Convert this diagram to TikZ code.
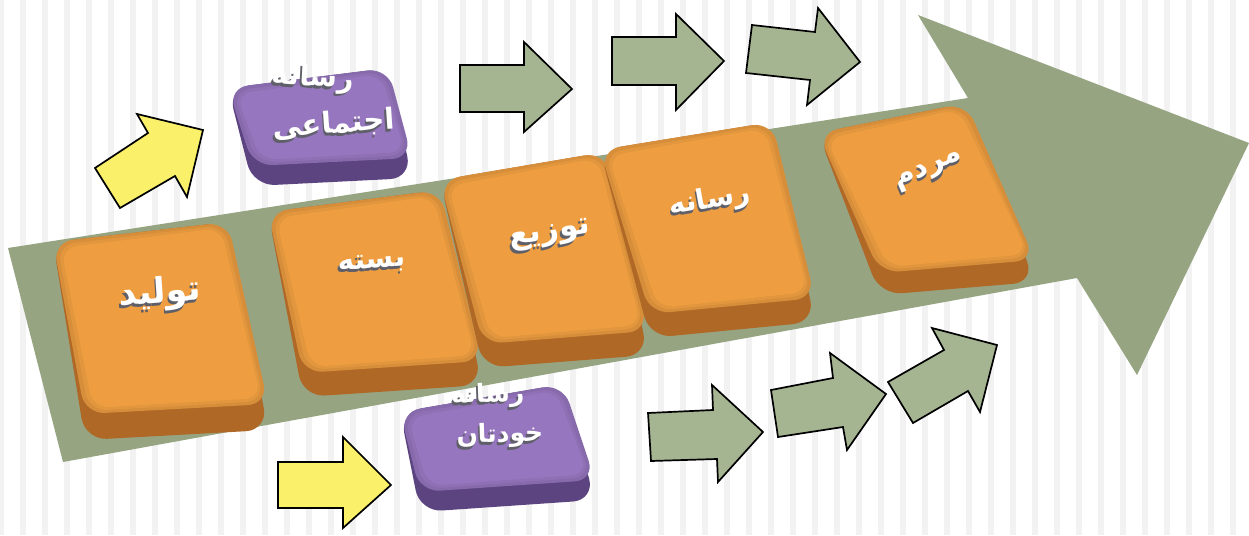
\documentclass[tikz,border=0pt]{standalone}
\usepackage{fontspec}
\newfontfamily\arabicfont[Script=Arabic]{DejaVu Sans}
\TeXXeTstate=1
\usetikzlibrary{calc}

\definecolor{stripe}{RGB}{242,242,242}
\definecolor{bigarrow}{RGB}{150,164,130}
\definecolor{smallgreen}{RGB}{166,181,145}
\definecolor{arrowyellow}{RGB}{250,240,105}
\definecolor{orangeface}{RGB}{238,158,64}
\definecolor{orangebase}{RGB}{176,104,38}
\definecolor{purpleface}{RGB}{150,118,190}
\definecolor{purplebase}{RGB}{92,68,128}
\definecolor{txtshadow}{RGB}{95,95,105}

% Arabic text set right to left, white with an offset grey shadow
\newcommand\fa[1]{\arabicfont\bfseries\beginR #1\endR}
\newcommand\embossed[1]{\rlap{\hspace{-1.8pt}\raisebox{-2.8pt}{\textcolor{txtshadow}{\fa{#1}}}}\textcolor{white}{\fa{#1}}}

% keycap: #1 TL, #2 TR, #3 BR, #4 BL, #5 face colour, #6 side colour, #7 side depth
\newcommand\keycap[7]{%
  \fill[#6, rounded corners=22pt] #1 -- #2 -- #3 -- #4 -- cycle;
  \fill[#5!90!black, rounded corners=20pt] #1 -- #2 -- ($#3+(0,-#7)$) -- ($#4+(0,-#7)$) -- cycle;
  \fill[#5!95!black, rounded corners=18pt] ($#1+(4,3)$) -- ($#2+(-4,3)$) -- ($#3+(-4,-#7-3)$) -- ($#4+(4,-#7-3)$) -- cycle;
  \fill[#5, rounded corners=16pt] ($#1+(8,6)$) -- ($#2+(-7,6)$) -- ($#3+(-7,-#7-6)$) -- ($#4+(8,-#7-6)$) -- cycle;
}

\tikzset{
  outlined/.style={draw=black, line width=1.7pt, line join=miter},
  greenarrow/.style={outlined, fill=smallgreen},
  yellowarrow/.style={outlined, fill=arrowyellow},
  lbl/.style={inner sep=0pt, text=white},
}

\begin{document}
\begin{tikzpicture}[x=1pt, y=-1pt]
\useasboundingbox (0,0) rectangle (1249,535);
\clip (0,0) rectangle (1249,535);
\fill[white] (0,0) rectangle (1249,535);

% striped backdrop
\foreach \k in {0,...,57} {
  \fill[stripe] ({22*\k-2},0) rectangle ({22*\k+4},535);
}

% the large arrow carrying the chain
\fill[bigarrow] (8,248) -- (968,98) -- (918,15) -- (1249,143) -- (1137,375) -- (1077,278) -- (63,462) -- cycle;

% small arrows, top row
\draw[yellowarrow] (95,168) -- (148,133) -- (137,114) -- (203,130) -- (187,197) -- (175,176) -- (120,208) -- cycle;
\draw[greenarrow] (460,65) -- (524,65) -- (524,42) -- (572,89) -- (524,132) -- (524,112) -- (460,112) -- cycle;
\draw[greenarrow] (612,37) -- (676,37) -- (676,14) -- (724,61) -- (676,110) -- (676,85) -- (612,85) -- cycle;
\draw[greenarrow] (752,25) -- (815,32) -- (818,8) -- (860,62) -- (807,105) -- (810,80) -- (746,73) -- cycle;

% small arrows, bottom row
\draw[yellowarrow] (278,462) -- (343,462) -- (343,437) -- (391,485) -- (343,528) -- (343,508) -- (278,508) -- cycle;
\draw[greenarrow] (648,413) -- (713,410) -- (712,385) -- (763,432) -- (718,482) -- (717,459) -- (651,461) -- cycle;
\draw[greenarrow] (771,390) -- (833,378) -- (830,353) -- (886,394) -- (847,450) -- (843,427) -- (778,437) -- cycle;
\draw[greenarrow] (888,382) -- (944,350) -- (932,328) -- (997,345) -- (980,412) -- (968,391) -- (913,423) -- cycle;

% stages on the arrow
\keycap{(53,242)}{(228,222)}{(268,430)}{(85,440)}{orangeface}{orangebase}{26}
\keycap{(268,212)}{(440,190)}{(482,385)}{(303,397)}{orangeface}{orangebase}{24}
\keycap{(440,180)}{(605,152)}{(648,355)}{(483,368)}{orangeface}{orangebase}{24}
\keycap{(600,150)}{(772,122)}{(815,322)}{(650,338)}{orangeface}{orangebase}{24}
\keycap{(818,133)}{(966,103)}{(1035,282)}{(880,295)}{orangeface}{orangebase}{22}

% media blocks
\keycap{(228,88)}{(388,68)}{(412,178)}{(253,186)}{purpleface}{purplebase}{20}
\keycap{(400,412)}{(563,384)}{(595,500)}{(420,512)}{purpleface}{purplebase}{20}

% labels
\node[lbl, font=\fontsize{35}{40}\selectfont, rotate=4] (produce) at (160,295) {\embossed{تولید}};
\node[lbl, font=\fontsize{28}{32}\selectfont, rotate=4] (package) at (372,265) {\embossed{بسته}};
\node[lbl, font=\fontsize{31}{36}\selectfont, rotate=9] (distribute) at (550,237) {\embossed{توزیع}};
\node[lbl, font=\fontsize{28}{32}\selectfont, rotate=10] (media) at (710,202) {\embossed{رسانه}};
\node[lbl, font=\fontsize{29}{34}\selectfont, rotate=24] (people) at (930,172) {\embossed{مردم}};

\node[lbl, font=\fontsize{28}{32}\selectfont, rotate=-3] (social1) at (313,80) {\embossed{رسانه}};
\node[lbl, font=\fontsize{29}{34}\selectfont, rotate=4] (social2) at (334,126) {\embossed{اجتماعی}};
\node[lbl, font=\fontsize{25}{30}\selectfont, rotate=2] (own1) at (488,397) {\embossed{رسانه}};
\node[lbl, font=\fontsize{25}{30}\selectfont, rotate=2] (own2) at (500,437) {\embossed{خودتان}};
\end{tikzpicture}
\end{document}
